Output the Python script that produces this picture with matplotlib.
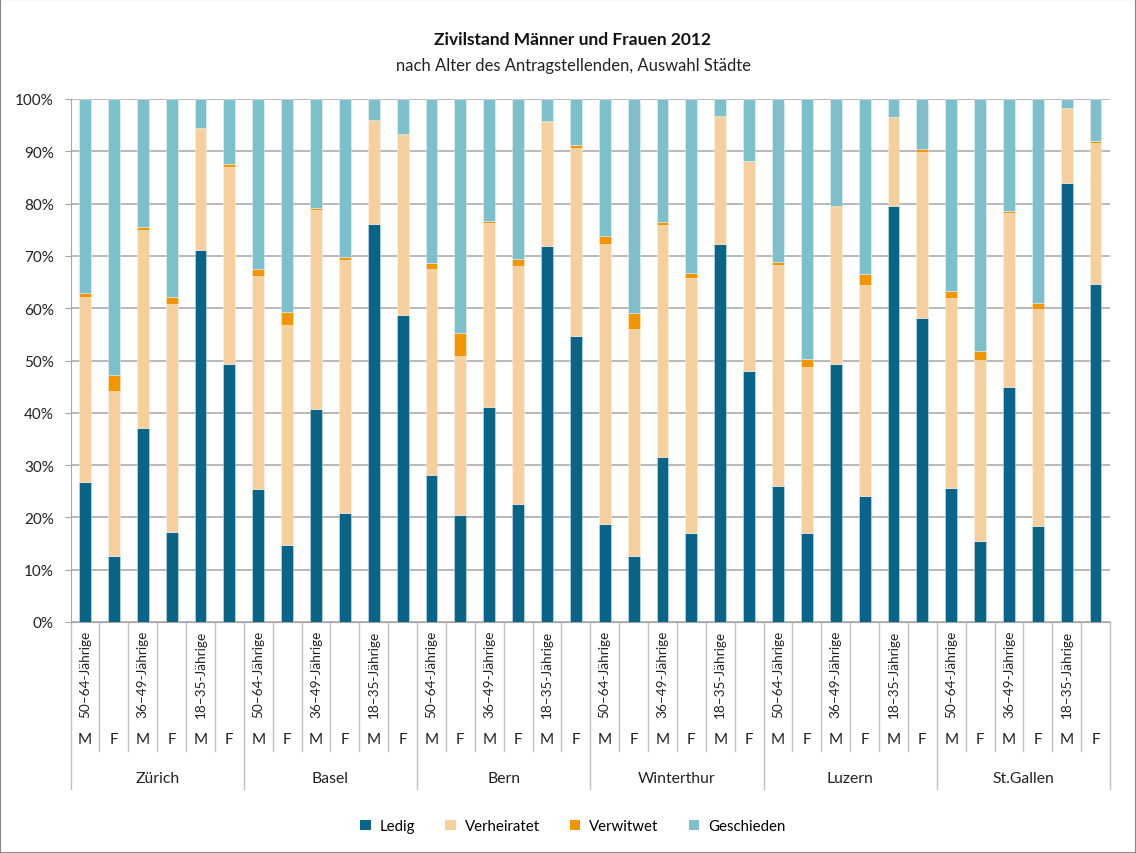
import matplotlib
matplotlib.use("Agg")
import matplotlib.pyplot as plt
import matplotlib.transforms as mtransforms
from matplotlib.patches import Rectangle, Patch
import numpy as np

plt.rcParams['font.family'] = ['Lato', 'DejaVu Sans']

cities = ["Zürich", "Basel", "Bern", "Winterthur", "Luzern", "St.Gallen"]
ages = ["50–64-Jährige", "36–49-Jährige", "18–35-Jährige"]
sexes = ["M", "F"]

# values (percent)
ledig = [26.7, 12.6, 37.1, 17.3, 71.2, 49.3,
         25.4, 14.7, 40.8, 20.8, 76.1, 58.7,
         28.2, 20.4, 41.1, 22.5, 71.9, 54.6,
         18.7, 12.7, 31.6, 17.1, 72.3, 48.0,
         26.0, 17.1, 49.3, 24.0, 79.6, 58.2,
         25.7, 15.4, 44.9, 18.3, 84.0, 64.7]
verheiratet = [35.4, 31.6, 37.9, 43.5, 23.1, 37.7,
               40.8, 42.0, 37.9, 48.4, 19.7, 34.5,
               39.3, 30.4, 35.1, 45.6, 23.7, 36.1,
               53.6, 43.4, 44.4, 48.7, 24.3, 40.1,
               42.3, 31.7, 30.1, 40.5, 16.9, 31.7,
               36.3, 34.7, 33.3, 41.6, 14.1, 26.8]
verwitwet = [0.9, 3.0, 0.5, 1.4, 0.1, 0.5,
             1.3, 2.5, 0.5, 0.6, 0.1, 0.1,
             1.2, 4.4, 0.5, 1.4, 0.1, 0.5,
             1.5, 3.0, 0.5, 0.9, 0.1, 0.1,
             0.5, 1.4, 0.2, 2.1, 0.1, 0.6,
             1.3, 1.8, 0.4, 1.1, 0.1, 0.5]
geschieden = [100 - a - b - c for a, b, c in zip(ledig, verheiratet, verwitwet)]

series = [("Ledig", ledig, "#0a6488"),
          ("Verheiratet", verheiratet, "#f6cf9e"),
          ("Verwitwet", verwitwet, "#f29500"),
          ("Geschieden", geschieden, "#7dc0cc")]

W, H = 1136, 854
fig = plt.figure(figsize=(W / 100, H / 100), dpi=100)
left, right, top, bottom = 70.6, 1110, 100, 623
ax = fig.add_axes([left / W, 1 - bottom / H, (right - left) / W, (bottom - top) / H])

n = len(ledig)
x = np.arange(n)
base = np.zeros(n)
for name, vals, col in series:
    vals = np.array(vals)
    ax.bar(x, vals, bottom=base, width=0.41, color=col, edgecolor=(1, 1, 1, 0.5),
           linewidth=0.5, label=name, zorder=3)
    base += vals

ax.set_xlim(-0.5, n - 0.5)
ax.set_ylim(0, 100)
ax.set_yticks(np.arange(0, 101, 10))
ax.set_yticklabels([f"{v}%" for v in range(0, 101, 10)], fontsize=11, color="#222222")
ax.yaxis.grid(True, color="#a6a6a6", linewidth=1.1, zorder=0)
ax.set_xticks([])
for s in ["top", "right"]:
    ax.spines[s].set_visible(False)
ax.spines["left"].set_color("#a6a6a6")
ax.spines["bottom"].set_color("#a6a6a6")
ax.tick_params(axis="y", length=4, color="#a6a6a6", pad=8)

# multi-level category axis
tr = mtransforms.blended_transform_factory(ax.transData, fig.transFigure)
def fy(p):
    return 1 - p / H

for i in range(n + 1):
    xb = i - 0.5
    yend = 790 if i % 6 == 0 else 752
    ax.plot([xb, xb], [fy(623), fy(yend)], transform=tr, color="#bfbfbf",
            linewidth=1, clip_on=False)

for i in range(n):
    ci, rem = divmod(i, 6)
    ai, si = divmod(rem, 2)
    if si == 0:
        ax.text(i, fy(631), ages[ai], transform=tr, rotation=90, ha="center",
                va="top", fontsize=9.8, color="#222222")
    ax.text(i, fy(740), sexes[si], transform=tr, ha="center", va="center",
            fontsize=11, color="#222222")
for ci, c in enumerate(cities):
    ax.text(ci * 6 + 2.5, fy(779), c, transform=tr, ha="center", va="center",
            fontsize=11.3, color="#222222")

fig.text(573 / W, fy(40), "Zivilstand Männer und Frauen 2012", ha="center",
         va="center", fontsize=12.5, fontweight="bold", color="#111111")
fig.text(573 / W, fy(66), "nach Alter des Antragstellenden, Auswahl Städte",
         ha="center", va="center", fontsize=12, color="#222222")

handles = [Patch(facecolor=col, edgecolor="none", label=name) for name, _, col in series]
fig.legend(handles=handles, loc="center", bbox_to_anchor=(573 / W, fy(827)), ncol=4,
           frameon=False, fontsize=10.8, handlelength=0.7, handleheight=0.7,
           handletextpad=0.6, columnspacing=2.0)

fig.patches.append(Rectangle((0, 0), 1, 1, transform=fig.transFigure, fill=False,
                             edgecolor="#888888", linewidth=1.5))

fig.savefig("out.png", dpi=100)
